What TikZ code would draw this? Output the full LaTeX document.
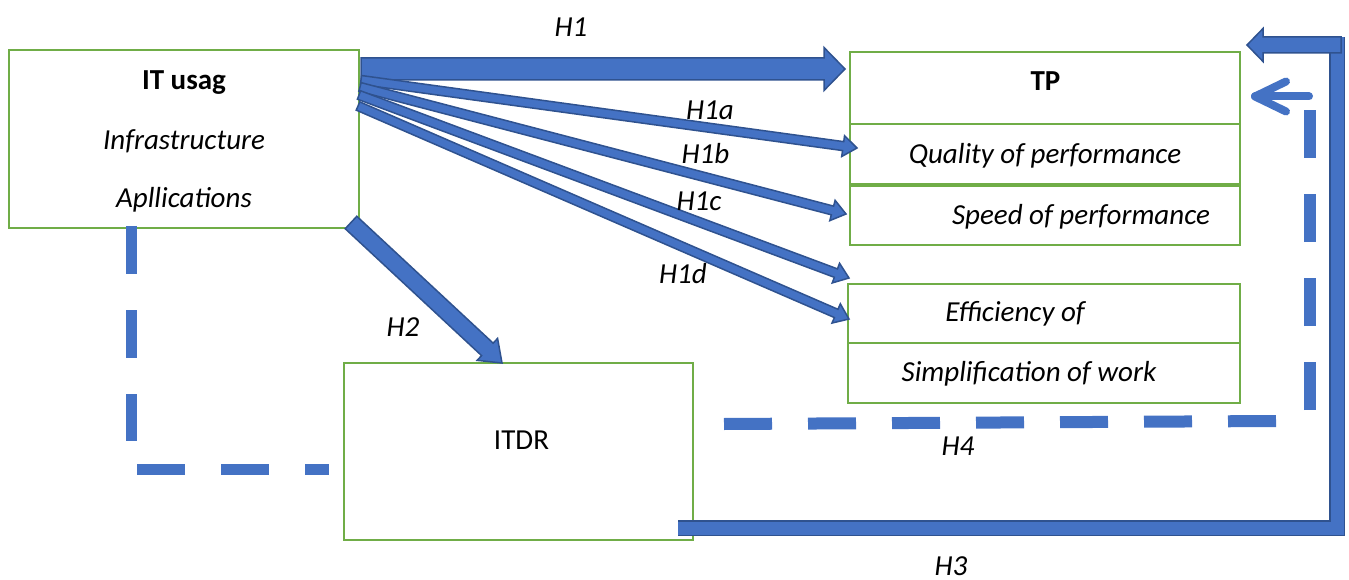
\documentclass[tikz,border=0pt]{standalone}
\usepackage{fontspec}
\setmainfont{Carlito}
\usetikzlibrary{calc}
\definecolor{boxgreen}{HTML}{70AD47}
\definecolor{bfill}{HTML}{4472C4}
\definecolor{bdark}{HTML}{2F528F}
\newcommand\blkarrow[5]{%
  \coordinate (bac) at ($(#2)!#5pt!(#1)$);
  \filldraw[blk] ($(#1)!#3pt!90:(#2)$) -- ($(bac)!#3pt!90:(#2)$) -- ($(bac)!#4pt!90:(#2)$) -- (#2) -- ($(bac)!#4pt!-90:(#2)$) -- ($(bac)!#3pt!-90:(#2)$) -- ($(#1)!#3pt!-90:(#2)$) -- cycle;}
\begin{document}
\begin{tikzpicture}[x=1pt,y=-1pt,
  box/.style={draw=boxgreen, line width=2pt, inner sep=0pt},
  txt/.style={font=\fontsize{29}{34}\selectfont, inner sep=0pt, anchor=base},
  lbl/.style={font=\fontsize{29}{34}\selectfont\itshape, inner sep=0pt, anchor=base},
  blk/.style={fill=bfill, draw=bdark, line width=1.5pt, line join=miter},
  dashblue/.style={draw=bfill, line width=12pt, dash pattern=on 48pt off 36pt, line cap=butt},
  thinarrow/.style={draw=bfill, line width=8pt, line cap=round, line join=round}]
\useasboundingbox (0,0) rectangle (1349,580);
% boxes
\node[box, minimum width=350pt, minimum height=178pt] (itu) at (184,139) {};
\node[box, minimum width=390pt, minimum height=72pt] (tp) at (1045,88.5) {};
\node[box, minimum width=390pt, minimum height=59.5pt] (qual) at (1045,154.25) {};
\node[box, minimum width=390pt, minimum height=58.5pt] (speed) at (1045,215.75) {};
\node[box, minimum width=392.5pt, minimum height=59.3pt] (eff) at (1043.75,313.65) {};
\node[box, minimum width=392.5pt, minimum height=59.4pt] (simp) at (1043.75,373) {};
\node[box, minimum width=348.5pt, minimum height=177pt] (itdr) at (518.25,451.5) {};
% box texts
\node[txt, font=\fontsize{29}{34}\selectfont\bfseries] (t-itu) at (184,89.3) {IT usag};
\node[lbl] (t-inf) at (184,149.3) {Infrastructure};
\node[lbl] (t-app) at (184,207.7) {Apllications};
\node[txt, font=\fontsize{29}{34}\selectfont\bfseries] (t-tp) at (1045.5,91) {TP};
\node[lbl] (t-qual) at (1045,163.3) {Quality of performance};
\node[lbl] (t-speed) at (1081,224.3) {Speed of performance};
\node[lbl] (t-eff) at (1015,321.7) {Efficiency of};
\node[lbl] (t-simp) at (1029,381.7) {Simplification of work};
\node[txt] (t-itdr) at (521.5,449) {ITDR};
% connector end points
\coordinate (h1s) at (361,69);   \coordinate (h1e) at (845,69);
\coordinate (h1as) at (361,80);  \coordinate (h1ae) at (857,148);
\coordinate (h1bs) at (360,87);  \coordinate (h1be) at (846,214);
\coordinate (h1cs) at (359,95);  \coordinate (h1ce) at (849,278);
\coordinate (h1ds) at (358,106); \coordinate (h1de) at (849,319);
\coordinate (h2s) at (351,222.5); \coordinate (h2e) at (502,363);
\coordinate (h3a) at (678,528); \coordinate (h3b) at (1337,528); \coordinate (h3c) at (1337,37);
\coordinate (h3d) at (1341,45); \coordinate (h3e) at (1247,45);
\coordinate (h4a) at (724,424); \coordinate (h4b) at (1276,421);
\coordinate (h4c) at (1310,410); \coordinate (h4d) at (1310,110);
\coordinate (h4e) at (1309,96.5); \coordinate (h4f) at (1255,96.5);
\coordinate (h4g) at (1286,81.5); \coordinate (h4h) at (1286,111.5);
\coordinate (l1a) at (131.5,226); \coordinate (l1b) at (131.5,441);
\coordinate (l2a) at (137,469.5); \coordinate (l2b) at (329,469.5);
% H1 arrows
\blkarrow{h1s}{h1e}{11}{21.5}{21}
\blkarrow{h1as}{h1ae}{4.5}{10.5}{14}
\blkarrow{h1bs}{h1be}{4.5}{10.5}{14}
\blkarrow{h1cs}{h1ce}{4.5}{10.5}{14}
\blkarrow{h1ds}{h1de}{4.5}{10.5}{14}
% H2
\blkarrow{h2s}{h2e}{8.5}{15}{20}
% H3
\draw[draw=bdark, line width=16pt, line join=miter] (h3a) -- (h3b) -- (h3c);
\draw[draw=bfill, line width=13pt, line join=miter] (h3a) -- (h3b) -- (h3c);
\blkarrow{h3d}{h3e}{8}{16.5}{16}
% H4
\draw[dashblue] (h4a) -- (h4b);
\draw[dashblue] (h4c) -- (h4d);
\draw[thinarrow] (h4e) -- (h4f);
\draw[thinarrow] (h4g) -- (h4f) -- (h4h);
% IT usag -- ITDR dashed
\draw[dashblue, line width=11.5pt] (l1a) -- (l1b);
\draw[dashblue, line width=11.5pt] (l2a) -- (l2b);
% labels
\node[lbl] (lh1) at (571,37) {H1};
\node[lbl] (lh1a) at (710,120) {H1a};
\node[lbl] (lh1b) at (705.5,164) {H1b};
\node[lbl] (lh1c) at (699,211) {H1c};
\node[lbl] (lh1d) at (683,283) {H1d};
\node[lbl] (lh2) at (403,336.7) {H2};
\node[lbl] (lh3) at (951,575) {H3};
\node[lbl] (lh4) at (958,455) {H4};
\end{tikzpicture}
\end{document}
